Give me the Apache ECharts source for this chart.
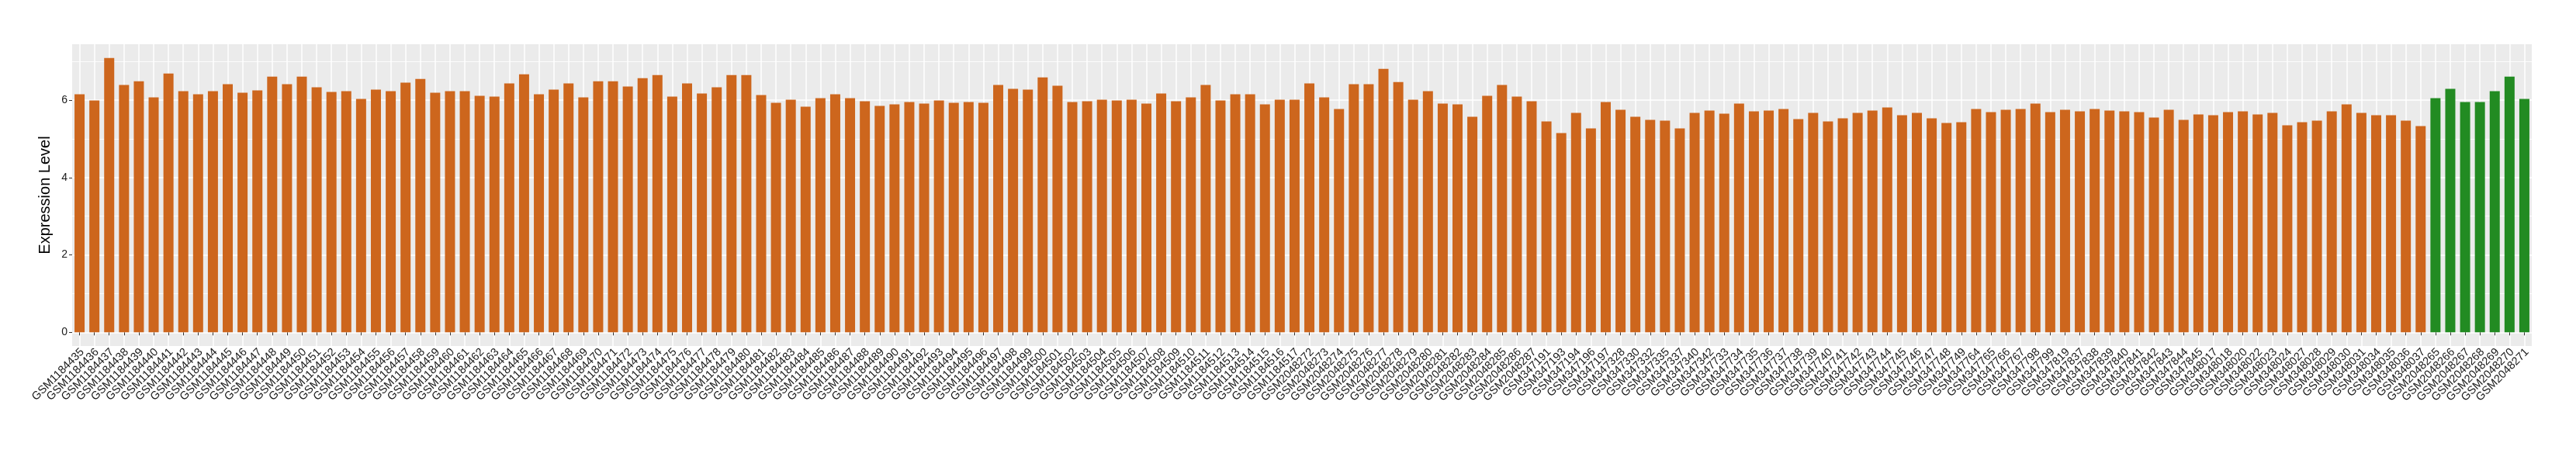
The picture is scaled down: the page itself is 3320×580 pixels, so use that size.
<!DOCTYPE html>
<html>
<head>
<meta charset="utf-8">
<script src="https://cdn.jsdelivr.net/npm/echarts@6/dist/echarts.min.js"></script>
<style>
  html, body { margin: 0; padding: 0; background: #fff; }
  #chart { width: 3320px; height: 580px; }
</style>
</head>
<body>
<div id="chart"></div>
<script>
// sample ids, in plotted order
var samples = [
  'GSM1184435','GSM1184436','GSM1184437','GSM1184438','GSM1184439','GSM1184440','GSM1184441','GSM1184442','GSM1184443','GSM1184444',
  'GSM1184445','GSM1184446','GSM1184447','GSM1184448','GSM1184449','GSM1184450','GSM1184451','GSM1184452','GSM1184453','GSM1184454',
  'GSM1184455','GSM1184456','GSM1184457','GSM1184458','GSM1184459','GSM1184460','GSM1184461','GSM1184462','GSM1184463','GSM1184464',
  'GSM1184465','GSM1184466','GSM1184467','GSM1184468','GSM1184469','GSM1184470','GSM1184471','GSM1184472','GSM1184473','GSM1184474',
  'GSM1184475','GSM1184476','GSM1184477','GSM1184478','GSM1184479','GSM1184480','GSM1184481','GSM1184482','GSM1184483','GSM1184484',
  'GSM1184485','GSM1184486','GSM1184487','GSM1184488','GSM1184489','GSM1184490','GSM1184491','GSM1184492','GSM1184493','GSM1184494',
  'GSM1184495','GSM1184496','GSM1184497','GSM1184498','GSM1184499','GSM1184500','GSM1184501','GSM1184502','GSM1184503','GSM1184504',
  'GSM1184505','GSM1184506','GSM1184507','GSM1184508','GSM1184509','GSM1184510','GSM1184511','GSM1184512','GSM1184513','GSM1184514',
  'GSM1184515','GSM1184516','GSM1184517',
  'GSM2048272','GSM2048273','GSM2048274','GSM2048275','GSM2048276','GSM2048277','GSM2048278','GSM2048279','GSM2048280','GSM2048281',
  'GSM2048282','GSM2048283','GSM2048284','GSM2048285','GSM2048286','GSM2048287',
  'GSM347191','GSM347193','GSM347194','GSM347196','GSM347197','GSM347328','GSM347330','GSM347332','GSM347335','GSM347337',
  'GSM347340','GSM347342',
  'GSM347733','GSM347734','GSM347735','GSM347736','GSM347737','GSM347738','GSM347739','GSM347740','GSM347741','GSM347742',
  'GSM347743','GSM347744','GSM347745','GSM347746','GSM347747','GSM347748','GSM347749',
  'GSM347764','GSM347765','GSM347766','GSM347767','GSM347798','GSM347799','GSM347819','GSM347837','GSM347838','GSM347839',
  'GSM347840','GSM347841','GSM347842','GSM347843','GSM347844','GSM347845',
  'GSM348017','GSM348018','GSM348020','GSM348022','GSM348023','GSM348024','GSM348027','GSM348028','GSM348029','GSM348030',
  'GSM348031','GSM348034','GSM348035','GSM348036','GSM348037',
  'GSM2048265','GSM2048266','GSM2048267','GSM2048268','GSM2048269','GSM2048270','GSM2048271'
]

var expression = [
  6.15,5.99,7.09,6.39,6.49,6.07,6.69,6.23,6.15,6.23,
  6.41,6.19,6.25,6.61,6.41,6.61,6.33,6.21,6.23,6.03,
  6.27,6.23,6.45,6.55,6.19,6.23,6.23,6.11,6.09,6.43,
  6.67,6.15,6.27,6.43,6.07,6.49,6.49,6.35,6.57,6.65,
  6.09,6.43,6.17,6.33,6.65,6.65,6.13,5.93,6.01,5.83,
  6.05,6.15,6.05,5.97,5.85,5.89,5.95,5.91,5.99,5.93,
  5.95,5.93,6.39,6.29,6.27,6.59,6.37,5.95,5.97,6.01,
  5.99,6.01,5.91,6.17,5.97,6.07,6.39,5.99,6.15,6.15,
  5.89,6.01,6.01,
  6.43,6.07,5.77,6.41,6.41,6.81,6.47,6.01,6.23,5.91,
  5.89,5.57,6.11,6.39,6.09,5.97,
  5.45,5.15,5.67,5.27,5.95,5.75,5.57,5.49,5.47,5.27,
  5.67,5.73,
  5.65,5.91,5.71,5.73,5.77,5.51,5.67,5.45,5.53,5.67,
  5.73,5.81,5.61,5.67,5.53,5.41,5.43,
  5.77,5.69,5.75,5.77,5.91,5.69,5.75,5.71,5.77,5.73,
  5.71,5.69,5.55,5.75,5.49,5.63,
  5.61,5.69,5.71,5.63,5.67,5.35,5.43,5.47,5.71,5.89,
  5.67,5.61,5.61,5.47,5.33,
  6.05,6.29,5.95,5.95,6.23,6.61,6.03
]

// 159 tumour samples, then 7 normal
var groupSizes = [159, 7]
var groupNames = ['tumor', 'normal']
var yMajor = [0, 2, 4, 6]
var yMinor = [1, 3, 5, 7]

var groups = []
for (var g = 0; g < groupSizes.length; g++) {
    for (var k = 0; k < groupSizes[g]; k++) groups.push(groupNames[g])
}
var groupColor = { tumor: '#CD661D', normal: '#228B22' }

var myChart = echarts.init(document.getElementById('chart'), null, { renderer: 'canvas' })
var font = 'Liberation Sans, Arial, sans-serif'

var option = {
  animation: false,
  backgroundColor: '#fff',
  grid: {
    left: 93, right: 57, top: 57, bottom: 134,
    show: true, backgroundColor: '#EBEBEB', borderWidth: 0
  },
  xAxis: {
    type: 'category',
    data: samples,
    axisLine: { show: false },
    axisTick: { show: true, alignWithLabel: true, length: 4, lineStyle: { color: '#333', width: 1 } },
    axisLabel: {
      interval: 0, rotate: 45, margin: 9,
      padding: [0, -5, 0, 0],
      fontSize: 14.5, fontFamily: font, color: '#1a1a1a'
    },
    splitLine: { show: true, alignWithLabel: true, lineStyle: { color: '#fff', width: 1.5 } }
  },
  yAxis: [{
    type: 'value',
    min: -0.355, max: 7.445,
    name: 'Expression Level',
    nameLocation: 'middle',
    nameGap: 17,
    nameTextStyle: { fontSize: 20, fontFamily: font, color: '#000' },
    axisLine: { show: false },
    axisTick: { show: true, length: 4, customValues: yMajor, lineStyle: { color: '#333' } },
    axisLabel: { customValues: yMajor, margin: 6, fontSize: 14, fontFamily: font, color: '#1a1a1a' },
    splitLine: { show: true, lineStyle: { color: '#fff', width: 1.5 } }
  }, {
    // minor grid lines only
    type: 'value',
    min: -0.355, max: 7.445,
    position: 'left',
    axisLine: { show: false },
    axisTick: { show: false, customValues: yMinor },
    axisLabel: { show: false },
    splitLine: { show: true, lineStyle: { color: '#fff', width: 0.8 } }
  }],
  series: [{
    type: 'bar',
    data: expression,
    barCategoryGap: '32%',
    itemStyle: {
      color: function (p) { return groupColor[groups[p.dataIndex]] }
    }
  }]
}

myChart.setOption(option)
</script>
</body>
</html>
